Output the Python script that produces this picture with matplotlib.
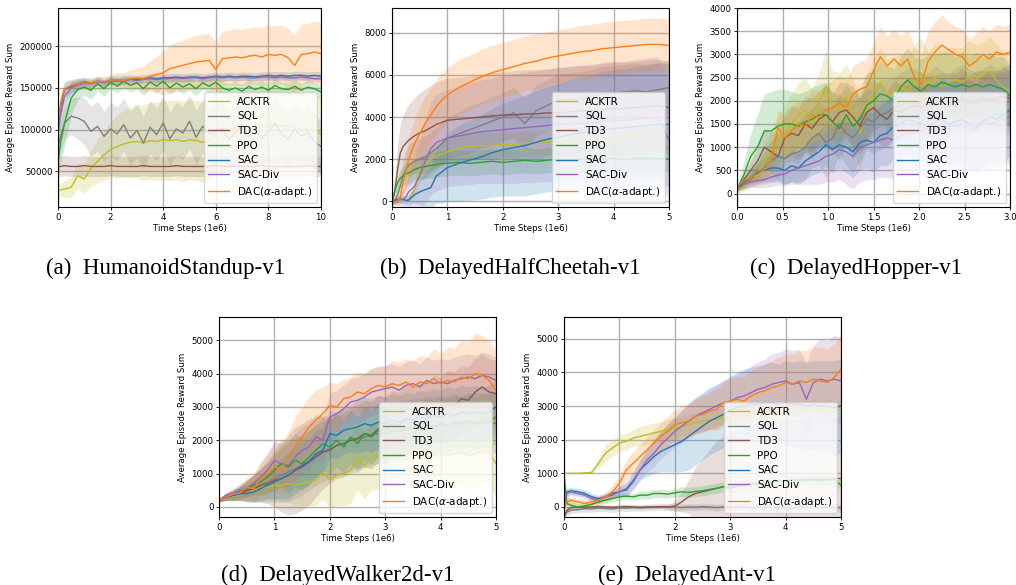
#!/usr/bin/env python3
"""Learning curves of seven RL agents on five MuJoCo tasks (mean +/- std bands)."""

import matplotlib

matplotlib.use("Agg")
import matplotlib.pyplot as plt
import numpy as np

# ----------------------------------------------------------------------------
# data (x in 1e6 time steps); every *_S list is the half-width of the band
# ----------------------------------------------------------------------------
LABELS = ["ACKTR", "SQL", "TD3", "PPO", "SAC", "SAC-Div", r"DAC($\alpha$-adapt.)"]

# (a) HumanoidStandup-v1, rewards in 1e3
X_A = np.r_[0.0, 0.1, np.arange(0.25, 10.01, 0.25)]
A_ACKTR = [28, 28, 29, 31, 45, 41, 54, 62, 70, 76, 80, 83, 85, 86, 84, 87, 86, 88, 87, 88, 86,
           88, 87, 85, 86, 99, 101, 100, 102, 101, 103, 102, 104, 105, 104, 105, 104, 103, 101, 100, 98, 95]
A_SQL = [80, 92, 108, 116, 114, 110, 98, 104, 92, 101, 95, 106, 90, 99, 84, 103, 94, 108, 89, 101, 96,
         110, 91, 104, 95, 99, 101, 88, 97, 106, 92, 100, 89, 97, 108, 95, 88, 101, 92, 97, 86, 80]
A_TD3 = [56, 56, 57, 56, 56, 57, 56, 56, 56, 57, 56, 56, 56, 56, 57, 56, 56, 56, 56, 57, 56,
         56, 56, 56, 56, 57, 56, 56, 56, 56, 56, 56, 57, 56, 56, 56, 56, 56, 56, 57, 56, 56]
A_PPO = [60, 85, 108, 138, 148, 151, 147, 155, 149, 157, 152, 158, 153, 156, 149, 157, 152, 158, 150, 156, 151,
         155, 149, 156, 152, 157, 150, 147, 150, 146, 152, 148, 151, 147, 153, 149, 148, 152, 147, 151, 149, 145]
A_SAC = [100, 128, 148, 152, 155, 157, 156, 158, 157, 159, 160, 159, 161, 160, 161, 162, 161, 162, 162, 163, 162,
         163, 163, 162, 163, 164, 163, 164, 163, 164, 164, 163, 164, 165, 164, 165, 164, 165, 165, 164, 165, 164]
A_DIV = [95, 118, 140, 150, 153, 155, 155, 157, 156, 158, 158, 158, 160, 159, 160, 161, 160, 161, 161, 162, 161,
         162, 162, 161, 162, 163, 162, 163, 162, 163, 162, 162, 163, 163, 162, 163, 162, 162, 163, 162, 161, 161]
A_DAC = [105, 132, 149, 153, 155, 156, 156, 158, 157, 159, 160, 159, 161, 162, 161, 164, 166, 168, 173, 175, 177,
         179, 181, 182, 183, 172, 185, 186, 187, 186, 188, 189, 187, 190, 189, 190, 186, 177, 190, 191, 193, 191]
A_ACKTR_S = [8, 8, 10, 12, 15, 18, 22, 26, 30, 34, 38, 40, 42, 44, 45, 46, 47, 48, 48, 48, 48,
             48, 48, 48, 48, 48, 48, 46, 46, 46, 46, 45, 45, 45, 45, 45, 45, 44, 44, 44, 44, 44]
A_SQL_S = [15, 18, 20, 22, 25, 28, 30, 30, 30, 32, 32, 32, 32, 32, 32, 32, 32, 32, 32, 32, 32,
           32, 32, 32, 32, 32, 32, 32, 32, 32, 32, 32, 32, 32, 32, 32, 32, 32, 32, 32, 32, 32]
A_TD3_S = [12, 12, 12, 12, 12, 12, 12, 12, 12, 12, 12, 12, 12, 12, 12, 12, 12, 12, 12, 12, 12,
           12, 12, 12, 12, 12, 12, 12, 12, 12, 12, 12, 12, 12, 12, 12, 12, 12, 12, 12, 12, 12]
A_PPO_S = [20, 25, 28, 20, 12, 10, 10, 9, 9, 8, 8, 8, 8, 8, 8, 8, 8, 8, 8, 8, 8,
           8, 8, 8, 8, 8, 8, 8, 8, 8, 8, 8, 8, 8, 8, 8, 8, 8, 8, 8, 8, 8]
A_SAC_S = [15, 15, 10, 8, 7, 6, 5, 5, 5, 5, 5, 5, 5, 5, 5, 5, 5, 5, 5, 5, 5,
           5, 5, 5, 5, 5, 5, 5, 5, 5, 5, 5, 5, 5, 5, 5, 5, 5, 5, 5, 5, 5]
A_DIV_S = [15, 15, 10, 7, 6, 5, 4, 4, 4, 4, 4, 4, 4, 4, 4, 4, 4, 4, 4, 4, 4,
           4, 4, 4, 4, 4, 4, 4, 4, 4, 4, 4, 4, 4, 4, 4, 4, 4, 4, 4, 4, 4]
A_DAC_S = [10, 10, 8, 6, 6, 6, 6, 6, 7, 7, 8, 9, 10, 12, 15, 18, 22, 26, 28, 30, 30,
           31, 32, 32, 32, 33, 33, 33, 34, 34, 34, 34, 35, 35, 35, 35, 35, 36, 36, 36, 37, 38]

# (b) DelayedHalfCheetah-v1
X_B = [0, 0.05, 0.1, 0.15, 0.2, 0.25, 0.3, 0.4, 0.5, 0.6, 0.7, 0.8, 0.9, 1.0, 1.2, 1.4, 1.6,
       1.8, 2.0, 2.2, 2.4, 2.6, 2.8, 3.0, 3.2, 3.4, 3.6, 3.8, 4.0, 4.2, 4.4, 4.6, 4.8, 5.0]
B_ACKTR = [-100, -50, 0, 0, 0, 0, 100, 500, 1400, 1800, 2000, 2150, 2250, 2350, 2500, 2600, 2650,
           2650, 2700, 2700, 2750, 2750, 2800, 2850, 2900, 2950, 3000, 3000, 3000, 3050, 3100, 3100, 3150, 3100]
B_SQL = [-100, 0, 300, 700, 1200, 1500, 1700, 1900, 2000, 2100, 2300, 2500, 2750, 3000, 3200, 3400, 3600,
         3800, 4000, 4200, 3700, 4300, 4550, 4800, 4850, 4900, 5000, 5100, 5150, 5200, 5250, 5200, 5300, 5400]
B_TD3 = [-100, 500, 1500, 2300, 2600, 2750, 2900, 3100, 3250, 3350, 3500, 3650, 3750, 3850, 3900, 3950, 4000,
         4050, 4100, 4100, 4150, 4150, 4200, 4200, 4250, 4300, 4300, 4350, 4400, 4400, 4450, 4500, 4550, 4450]
B_PPO = [-100, 500, 900, 1100, 1200, 1300, 1350, 1500, 1600, 1650, 1700, 1750, 1800, 1800, 1850, 1800, 1850,
         1900, 1850, 1900, 1950, 1900, 1950, 2000, 1950, 2000, 2050, 2000, 2050, 2000, 2050, 2050, 2050, 2000]
B_SAC = [-100, 50, 100, 100, 80, 50, 50, 300, 450, 550, 650, 1200, 1400, 1600, 1800, 1950, 2100,
         2300, 2450, 2550, 2650, 2800, 2950, 3050, 3150, 3250, 3300, 3400, 3450, 3500, 3550, 3600, 3650, 3650]
B_DIV = [-100, 0, 50, 80, 100, 200, 450, 700, 1200, 1900, 2500, 2800, 2900, 3000, 3100, 3200, 3300,
         3350, 3400, 3450, 3500, 3550, 3600, 3650, 3700, 3700, 3750, 3800, 3850, 3850, 3900, 3950, 4000, 2900]
B_DAC = [-100, -50, 0, 200, 900, 1400, 2000, 2700, 3200, 3700, 4100, 4500, 4800, 5050, 5400, 5650, 5900,
         6100, 6250, 6400, 6550, 6650, 6800, 6900, 7000, 7100, 7150, 7250, 7300, 7350, 7400, 7450, 7450, 7400]
B_ACKTR_S = [50, 50, 50, 50, 50, 50, 100, 300, 500, 600, 600, 600, 600, 600, 600, 600, 600,
             600, 600, 600, 600, 600, 600, 600, 600, 600, 600, 600, 600, 600, 600, 600, 600, 600]
B_SQL_S = [50, 200, 400, 600, 800, 900, 1000, 1000, 1000, 1000, 1000, 1000, 1000, 1000, 1050, 1100, 1100,
           1150, 1150, 1200, 1200, 1200, 1200, 1250, 1250, 1250, 1250, 1300, 1300, 1300, 1300, 1300, 1300, 1300]
B_TD3_S = [50, 600, 1200, 1400, 1500, 1600, 1700, 1800, 1900, 2000, 2000, 2000, 2000, 2000, 2000, 2000, 2000,
           2050, 2050, 2100, 2100, 2100, 2100, 2150, 2150, 2150, 2150, 2200, 2200, 2200, 2200, 2200, 2200, 2200]
B_PPO_S = [50, 200, 300, 400, 450, 500, 500, 500, 550, 550, 600, 600, 600, 600, 600, 600, 600,
           600, 600, 600, 600, 600, 600, 600, 600, 600, 600, 600, 600, 600, 600, 600, 600, 600]
B_SAC_S = [50, 100, 150, 200, 200, 200, 250, 400, 600, 800, 1000, 1300, 1500, 1600, 1800, 1900, 2000,
           2100, 2200, 2300, 2400, 2450, 2500, 2550, 2600, 2650, 2700, 2750, 2800, 2800, 2850, 2900, 2900, 2900]
B_DIV_S = [50, 100, 200, 300, 400, 600, 900, 1300, 1700, 2000, 2200, 2300, 2300, 2300, 2350, 2400, 2450,
           2500, 2550, 2600, 2600, 2650, 2650, 2700, 2700, 2750, 2750, 2800, 2800, 2800, 2850, 2850, 2850, 2850]
B_DAC_S = [50, 100, 200, 400, 600, 800, 1000, 1200, 1300, 1300, 1300, 1300, 1300, 1300, 1300, 1300, 1300,
           1300, 1300, 1300, 1300, 1300, 1250, 1250, 1250, 1250, 1250, 1250, 1250, 1250, 1250, 1250, 1250, 1250]

# (c) DelayedHopper-v1
X_C = np.linspace(0.0, 3.0, 41)
C_ACKTR = [50, 150, 300, 400, 700, 900, 1100, 1300, 1500, 1700, 1800, 1500, 1900, 2300, 1900, 1800, 2100,
           1700, 1300, 1800, 2200, 2400, 2100, 2200, 2300, 2200, 2400, 2600, 2350, 2500, 2300, 2400, 2450,
           2400, 2500, 2450, 2550, 2650, 2450, 2300, 2200]
C_SQL = [100, 200, 300, 450, 550, 700, 800, 750, 850, 900, 1000, 1200, 1300, 1100, 1200, 1500, 1300,
         1200, 1400, 1600, 1550, 1700, 1750, 1850, 1900, 1950, 2000, 1950, 1900, 2000, 1950, 1900, 2000,
         2050, 2000, 1950, 2000, 2050, 2000, 1950, 2000]
C_TD3 = [100, 300, 500, 700, 1000, 900, 800, 1200, 1300, 1250, 1500, 1400, 1600, 1700, 1550, 1750, 1800,
         1650, 1450, 1750, 1850, 1700, 1600, 1800, 1750, 1850, 1900, 1850, 1950, 1900, 2000, 1950, 2000,
         2050, 1950, 2000, 2050, 2000, 2050, 2100, 2050]
C_PPO = [100, 400, 800, 1000, 1350, 1350, 1450, 1500, 1500, 1450, 1550, 1600, 1700, 1700, 1550, 1400, 1700,
         1450, 1600, 1900, 2000, 2150, 2100, 2000, 2300, 2450, 2300, 2200, 2350, 2300, 2400, 2350, 2300,
         2350, 2300, 2350, 2300, 2350, 2300, 2250, 2100]
C_SAC = [100, 250, 350, 450, 500, 550, 550, 500, 600, 550, 700, 800, 900, 1050, 950, 1050, 1000,
         900, 1100, 1150, 1100, 1250, 1300, 1450, 1500, 1600, 1550, 1500, 1450, 1550, 1600, 1500, 1550,
         1600, 1500, 1400, 1550, 1650, 1600, 1700, 1800]
C_DIV = [100, 200, 250, 280, 300, 350, 400, 420, 500, 550, 600, 650, 700, 800, 850, 950, 900,
         800, 1000, 1050, 1100, 1150, 1200, 1150, 1250, 1300, 1300, 1350, 1400, 1350, 1400, 1450, 1450,
         1500, 1450, 1500, 1550, 1500, 1550, 1600, 1650]
C_DAC = [150, 280, 350, 420, 520, 700, 1420, 1200, 1350, 1500, 1450, 1700, 1650, 1800, 1850, 1950, 1850,
         2150, 2250, 2300, 2650, 2950, 2750, 2900, 2750, 2900, 2500, 2350, 2850, 3050, 3200, 3100, 3000,
         2950, 2750, 2850, 3000, 2900, 3050, 3000, 3050]
C_ACKTR_S = [50, 100, 150, 250, 350, 450, 550, 600, 650, 700, 700, 750, 700, 800, 750, 800, 700,
             750, 800, 750, 700, 750, 800, 750, 700, 750, 800, 750, 700, 750, 800, 750, 700,
             750, 800, 750, 700, 750, 800, 750, 700]
C_SQL_S = [50, 100, 150, 250, 350, 450, 500, 550, 600, 650, 700, 650, 700, 750, 700, 650, 700,
           750, 700, 650, 700, 750, 700, 650, 700, 750, 700, 650, 700, 750, 700, 650, 700,
           750, 700, 650, 700, 750, 700, 650, 700]
C_TD3_S = [50, 100, 200, 300, 400, 450, 500, 550, 600, 600, 600, 650, 600, 650, 600, 650, 600,
           650, 600, 650, 600, 650, 600, 650, 600, 650, 600, 650, 600, 650, 600, 650, 600,
           650, 600, 650, 600, 650, 600, 650, 600]
C_PPO_S = [50, 300, 500, 700, 800, 850, 800, 750, 700, 700, 650, 700, 650, 700, 650, 700, 650,
           700, 650, 700, 650, 700, 650, 700, 650, 700, 650, 700, 650, 700, 650, 700, 650,
           700, 650, 700, 650, 700, 650, 700, 650]
C_SAC_S = [50, 100, 150, 200, 250, 300, 300, 300, 350, 350, 400, 400, 450, 450, 500, 500, 550,
           550, 600, 600, 650, 650, 700, 700, 750, 750, 800, 800, 850, 850, 900, 900, 900,
           950, 950, 950, 1000, 1000, 1000, 1000, 1000]
C_DIV_S = [50, 100, 120, 150, 180, 200, 220, 250, 300, 350, 400, 450, 500, 550, 600, 650, 700,
           700, 750, 750, 800, 800, 850, 850, 900, 900, 900, 950, 950, 950, 1000, 1000, 1000,
           1000, 1000, 1000, 1000, 1000, 1000, 1000, 1000]
C_DAC_S = [50, 100, 150, 200, 250, 300, 400, 450, 500, 500, 500, 550, 550, 550, 600, 600, 600,
           600, 600, 600, 600, 650, 650, 650, 650, 650, 650, 650, 650, 650, 650, 600, 600,
           600, 600, 600, 600, 600, 600, 600, 600]

# (d) DelayedWalker2d-v1
X_D = np.linspace(0.0, 5.0, 41)
D_ACKTR = [200, 300, 320, 380, 450, 500, 550, 600, 650, 650, 700, 650, 700, 750, 800, 1050, 800,
           950, 1000, 1100, 1500, 1250, 1500, 1550, 1600, 1500, 1600, 1650, 1550, 1600, 1700, 1600, 1650,
           1550, 1600, 1650, 1550, 1600, 1700, 1650, 1300]
D_SQL = [200, 300, 350, 400, 450, 550, 650, 750, 850, 950, 1050, 1150, 1250, 1400, 1550, 1650, 1750,
         1850, 1900, 2000, 2050, 2100, 2150, 2200, 2200, 2250, 2300, 2300, 2350, 2350, 2400, 2400, 2450,
         2450, 2500, 2450, 2500, 2550, 2500, 2550, 2500]
D_TD3 = [200, 300, 350, 400, 500, 550, 650, 700, 800, 850, 950, 1100, 1200, 1350, 1500, 1650, 1700,
         1850, 1900, 2000, 2050, 2200, 2150, 2350, 2300, 2500, 2450, 2650, 2600, 2800, 2750, 2950, 2900,
         3100, 3050, 3250, 3200, 3450, 3600, 3450, 3400]
D_PPO = [200, 300, 350, 450, 550, 650, 750, 900, 1100, 1300, 1200, 1400, 1300, 1500, 1700, 1900, 1800,
         2000, 1800, 2100, 1900, 2200, 2100, 2300, 2200, 2300, 2250, 2350, 2400, 2350, 2450, 2400, 2500,
         2450, 2550, 2500, 2600, 2500, 2600, 2550, 2700]
D_SAC = [200, 300, 350, 400, 400, 450, 550, 650, 750, 850, 950, 1100, 1250, 1350, 1600, 1700, 2200,
         2150, 2300, 2350, 2400, 2500, 2450, 2550, 2500, 2600, 2550, 2650, 2600, 2700, 2650, 2750, 2700,
         2800, 2750, 2850, 2800, 2850, 2800, 2850, 3000]
D_DIV = [200, 350, 400, 500, 550, 700, 900, 1100, 1400, 1300, 1250, 1500, 1700, 1800, 2100, 2000, 2700,
         2800, 2950, 3150, 3200, 3300, 3450, 3500, 3550, 3600, 3500, 3650, 3700, 3600, 3800, 3700, 3750,
         3700, 3800, 3850, 3900, 3850, 3950, 3900, 3800]
D_DAC = [200, 300, 380, 420, 600, 550, 850, 1000, 1200, 1150, 1450, 1800, 2100, 2400, 2600, 2800, 3050,
         3000, 3250, 3300, 3450, 3400, 3550, 3650, 3600, 3700, 3650, 3750, 3600, 3750, 3700, 3850, 3700,
         3800, 3750, 3900, 3850, 4000, 3950, 3800, 3500]
D_ACKTR_S = [50, 100, 150, 200, 250, 300, 350, 400, 450, 500, 550, 600, 650, 700, 750, 800, 850,
             900, 950, 1000, 1000, 1000, 1000, 1000, 1000, 1000, 1000, 1000, 1000, 1000, 1000, 1000, 1000,
             1000, 1000, 1000, 1000, 1000, 1000, 1000, 1000]
D_SQL_S = [50, 100, 150, 200, 300, 400, 500, 600, 700, 800, 900, 900, 900, 900, 900, 900, 900,
           900, 900, 900, 900, 900, 900, 900, 900, 900, 900, 900, 900, 900, 900, 900, 900,
           900, 900, 900, 900, 900, 900, 900, 900]
D_TD3_S = [50, 100, 150, 200, 300, 400, 500, 600, 800, 1000, 1200, 1300, 1300, 1300, 1200, 1100, 1000,
           1000, 1000, 1000, 1000, 1000, 1000, 1000, 1000, 1000, 1000, 1000, 1000, 1000, 1000, 1000, 1000,
           1000, 1000, 1000, 1000, 1000, 1000, 1000, 1000]
D_PPO_S = [50, 100, 150, 200, 250, 300, 400, 500, 600, 700, 800, 800, 800, 800, 800, 800, 800,
           800, 800, 800, 800, 800, 800, 800, 800, 800, 800, 800, 800, 800, 800, 800, 800,
           800, 800, 800, 800, 800, 800, 800, 800]
D_SAC_S = [50, 100, 150, 200, 250, 300, 350, 400, 500, 600, 700, 700, 700, 700, 700, 700, 700,
           700, 700, 700, 800, 800, 800, 800, 800, 800, 800, 800, 800, 800, 800, 800, 800,
           800, 800, 800, 800, 800, 800, 800, 800]
D_DIV_S = [50, 100, 150, 200, 250, 300, 400, 500, 600, 600, 700, 700, 700, 700, 700, 700, 700,
           700, 700, 700, 700, 700, 700, 700, 700, 700, 700, 700, 700, 700, 700, 700, 700,
           700, 700, 700, 700, 700, 700, 700, 700]
D_DAC_S = [50, 100, 150, 200, 300, 400, 500, 600, 700, 800, 800, 900, 900, 900, 900, 800, 700,
           700, 600, 600, 600, 600, 600, 600, 600, 700, 700, 700, 800, 800, 800, 900, 900,
           1000, 1000, 1100, 1100, 1200, 1200, 1200, 1200]

# (e) DelayedAnt-v1
X_E = np.r_[0.0, 0.05, np.arange(0.125, 5.001, 0.125)]
E_ACKTR = [990, 1000, 1000, 1000, 1010, 1030, 1300, 1600, 1750, 1900, 1950, 2050, 2100, 2150, 2200, 2250,
           2300, 2350, 2400, 2450, 2500, 2550, 2600, 2600, 2650, 2700, 2700, 2750, 2750, 2800, 2750, 2800,
           2800, 2850, 2800, 2850, 2850, 2900, 2850, 2900, 2850, 2900]
E_SQL = [-300, -150, -100, -80, -50, -60, -40, -50, -60, -30, -40, -20, -30, -20, -10, 0,
         -10, 0, -20, 0, -10, 10, 0, -20, 0, -10, 10, 0, -30, -10, 0, -20,
         -40, -50, -30, -10, 0, -20, -10, -30, -20, -20]
E_TD3 = [-300, -100, -20, 0, -10, 0, 10, 0, -10, 0, 10, 0, -10, 0, 0, 10,
         0, 20, 150, 300, 400, 450, 500, 550, 600, 580, 620, 650, 680, 700, 720, 750,
         760, 780, 800, 800, 820, 800, 830, 820, 840, 850]
E_PPO = [1000, 100, 50, 0, 30, 80, 150, 200, 250, 300, 320, 300, 350, 350, 400, 400,
         380, 420, 450, 430, 460, 480, 520, 550, 600, 550, 620, 650, 700, 680, 720, 750,
         780, 760, 800, 780, 800, 820, 780, 800, 820, 650]
E_SAC = [0, 450, 480, 450, 400, 300, 250, 300, 400, 450, 500, 750, 1100, 1300, 1500, 1650,
         1750, 1850, 1950, 2100, 2250, 2400, 2550, 2650, 2750, 2900, 2950, 3000, 3050, 3050, 3100, 3100,
         3050, 3100, 3050, 3050, 3000, 3050, 3000, 3000, 2950, 3000]
E_DIV = [0, 400, 450, 400, 350, 250, 200, 300, 350, 450, 550, 800, 1100, 1400, 1600, 1850,
         2050, 2250, 2400, 2550, 2700, 2800, 2900, 3000, 3100, 3150, 3250, 3300, 3400, 3500, 3550, 3650,
         3700, 3750, 3650, 3700, 3200, 3700, 3800, 3750, 3800, 3750]
E_DAC = [-100, 150, 200, 150, 100, 150, 200, 300, 450, 700, 1100, 1300, 1500, 1700, 1900, 2100,
         2250, 2450, 2500, 2550, 2700, 2750, 2850, 2900, 3100, 3150, 3200, 3150, 3300, 3400, 3450, 3550,
         3600, 3700, 3650, 3750, 3700, 3800, 3750, 3700, 3850, 4100]
E_ACKTR_S = [20, 20, 20, 20, 30, 40, 150, 250, 250, 250, 250, 250, 300, 300, 300, 300,
             300, 300, 300, 300, 300, 300, 300, 300, 300, 300, 300, 300, 300, 300, 300, 300,
             300, 300, 300, 300, 300, 300, 300, 300, 300, 300]
E_SQL_S = [150, 120, 100, 100, 100, 100, 100, 100, 100, 100, 100, 100, 100, 100, 100, 100,
           100, 100, 100, 100, 100, 100, 100, 100, 100, 100, 100, 100, 100, 100, 100, 100,
           100, 100, 100, 100, 100, 100, 100, 100, 100, 100]
E_TD3_S = [50, 50, 50, 50, 50, 50, 50, 50, 50, 50, 50, 50, 50, 50, 50, 50,
           80, 150, 300, 500, 800, 1000, 1200, 1400, 1500, 1600, 1700, 1700, 1800, 1800, 1800, 1800,
           1800, 1800, 1800, 1800, 1800, 1800, 1800, 1800, 1800, 1800]
E_PPO_S = [50, 300, 150, 100, 100, 100, 100, 100, 100, 100, 100, 100, 120, 120, 120, 120,
           120, 120, 150, 150, 150, 150, 150, 150, 150, 150, 150, 150, 150, 150, 150, 150,
           150, 150, 150, 150, 150, 150, 150, 150, 150, 150]
E_SAC_S = [50, 100, 100, 100, 100, 100, 100, 100, 100, 150, 200, 250, 300, 400, 500, 600,
           700, 800, 900, 1000, 1000, 1000, 1000, 1000, 1000, 1000, 1050, 1100, 1100, 1150, 1150, 1200,
           1200, 1250, 1250, 1300, 1300, 1300, 1350, 1350, 1400, 1400]
E_DIV_S = [50, 100, 100, 100, 100, 100, 100, 100, 100, 150, 200, 250, 300, 350, 400, 400,
           450, 450, 500, 500, 550, 550, 600, 600, 650, 700, 700, 750, 800, 800, 850, 900,
           900, 950, 1000, 1000, 1100, 1100, 1200, 1200, 1300, 1300]
E_DAC_S = [50, 100, 100, 100, 100, 100, 100, 150, 200, 250, 300, 350, 350, 400, 400, 400,
           450, 450, 500, 500, 500, 550, 550, 600, 600, 650, 700, 700, 750, 750, 800, 800,
           850, 850, 900, 900, 950, 950, 1000, 1000, 1000, 1000]

CAPTIONS = ["(a)  HumanoidStandup-v1", "(b)  DelayedHalfCheetah-v1", "(c)  DelayedHopper-v1",
            "(d)  DelayedWalker2d-v1", "(e)  DelayedAnt-v1"]

# ----------------------------------------------------------------------------
COLORS = ["#bcbd22", "#7f7f7f", "#8c564b", "#2ca02c", "#1f77b4", "#9467bd", "#ff7f0e"]
FIG_W, FIG_H = 1016, 585


def apply_style() -> None:
    plt.rcParams.update(
        {
            "font.family": "DejaVu Sans",
            "axes.linewidth": 0.8,
            "xtick.labelsize": 6.2,
            "ytick.labelsize": 6.2,
            "axes.labelsize": 6.2,
            "legend.fontsize": 7.5,
            "xtick.major.size": 2.5,
            "ytick.major.size": 2.5,
            "xtick.major.width": 0.6,
            "ytick.major.width": 0.6,
            "xtick.major.pad": 1.5,
            "ytick.major.pad": 1.5,
            "mathtext.fontset": "dejavusans",
        }
    )


def add_axes_px(fig, left, top, right, bottom):
    return fig.add_axes([left / FIG_W, 1 - bottom / FIG_H, (right - left) / FIG_W, (bottom - top) / FIG_H])


def plot_panel(ax, x, means, spreads, scale, xlim, ylim, xticks):
    x = np.asarray(x, dtype=float)
    for mean, spread, color, label in zip(means, spreads, COLORS, LABELS):
        m = np.asarray(mean, dtype=float) * scale
        s = np.asarray(spread, dtype=float) * scale
        ax.fill_between(x, m - s, m + s, color=color, alpha=0.2, linewidth=0)
        ax.plot(x, m, color=color, linewidth=1.0, label=label)
    ax.set_xlim(*xlim)
    ax.set_ylim(*ylim)
    ax.set_xticks(xticks)
    ax.grid(True, color="#b0b0b0", linewidth=1.0)
    ax.set_axisbelow(True)
    ax.set_xlabel("Time Steps (1e6)", labelpad=2)
    ax.set_ylabel("Average Episode Reward Sum", labelpad=3)
    leg = ax.legend(loc="lower right", framealpha=0.8, borderaxespad=0.4,
                    handlelength=2.0, labelspacing=0.45, borderpad=0.4)
    leg.get_frame().set_edgecolor("0.8")


def main() -> None:
    apply_style()
    fig = plt.figure(figsize=(FIG_W / 100, FIG_H / 100), dpi=100)

    panels = [
        ((58, 8, 321, 207), X_A, [A_ACKTR, A_SQL, A_TD3, A_PPO, A_SAC, A_DIV, A_DAC],
         [A_ACKTR_S, A_SQL_S, A_TD3_S, A_PPO_S, A_SAC_S, A_DIV_S, A_DAC_S], 1000,
         (0, 10), (7500, 245600), [0, 2, 4, 6, 8, 10]),
        ((392, 8, 669, 207), X_B, [B_ACKTR, B_SQL, B_TD3, B_PPO, B_SAC, B_DIV, B_DAC],
         [B_ACKTR_S, B_SQL_S, B_TD3_S, B_PPO_S, B_SAC_S, B_DIV_S, B_DAC_S], 1,
         (0, 5), (-270, 9180), [0, 1, 2, 3, 4, 5]),
        ((737, 8, 1010, 207), X_C, [C_ACKTR, C_SQL, C_TD3, C_PPO, C_SAC, C_DIV, C_DAC],
         [C_ACKTR_S, C_SQL_S, C_TD3_S, C_PPO_S, C_SAC_S, C_DIV_S, C_DAC_S], 1,
         (0, 3), (-290, 4000), [0.0, 0.5, 1.0, 1.5, 2.0, 2.5, 3.0]),
        ((219, 317, 496, 517), X_D, [D_ACKTR, D_SQL, D_TD3, D_PPO, D_SAC, D_DIV, D_DAC],
         [D_ACKTR_S, D_SQL_S, D_TD3_S, D_PPO_S, D_SAC_S, D_DIV_S, D_DAC_S], 1,
         (0, 5), (-300, 5700), [0, 1, 2, 3, 4, 5]),
        ((564, 317, 841, 517), X_E, [E_ACKTR, E_SQL, E_TD3, E_PPO, E_SAC, E_DIV, E_DAC],
         [E_ACKTR_S, E_SQL_S, E_TD3_S, E_PPO_S, E_SAC_S, E_DIV_S, E_DAC_S], 1,
         (0, 5), (-300, 5650), [0, 1, 2, 3, 4, 5]),
    ]
    for rect, x, means, spreads, scale, xlim, ylim, xticks in panels:
        ax = add_axes_px(fig, *rect)
        plot_panel(ax, x, means, spreads, scale, xlim, ylim, xticks)

    # sub-captions (centre x, baseline y in pixels)
    caption_pos = [(166, 274), (510, 274), (856, 274), (338, 581), (687, 581)]
    for text, (cx, cy) in zip(CAPTIONS, caption_pos):
        fig.text(cx / FIG_W, 1 - cy / FIG_H, text, ha="center", va="baseline",
                 family="Liberation Serif", fontsize=16.5)

    fig.savefig("out.png", dpi=100)
    plt.close(fig)


if __name__ == "__main__":
    main()
